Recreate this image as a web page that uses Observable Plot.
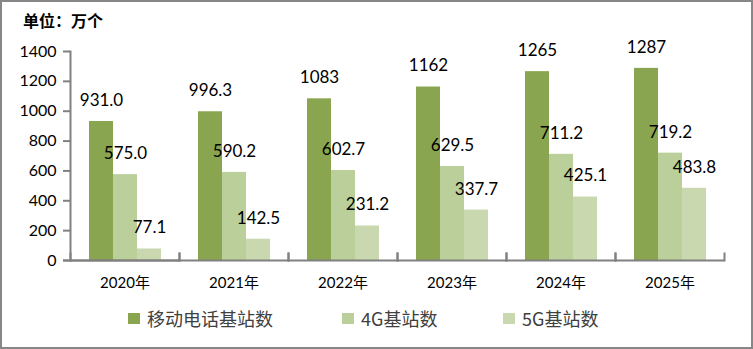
<!DOCTYPE html>
<html>
<head>
<meta charset="utf-8">
<script src="https://cdn.jsdelivr.net/npm/d3@7"></script>
<script src="https://cdn.jsdelivr.net/npm/@observablehq/plot@0.6"></script>
<style>
  html, body { margin: 0; padding: 0; background: #fff; }
  #wrap { position: relative; width: 753px; height: 349px; overflow: hidden; background: #fff; }
  #border { position: absolute; left: 0; top: 0; width: 753px; height: 349px; box-sizing: border-box; border: 2px solid #878787; pointer-events: none; }
  #chart { position: absolute; left: 0; top: 0; }
  #title { position: absolute; left: 23px; top: 9px; font: bold 16px "Noto Sans CJK SC", sans-serif; line-height: 22px; color: #000; }
  #legend { position: absolute; left: 0; top: 306px; width: 753px; height: 24px; font: 18px "Noto Sans CJK SC", Lato, sans-serif; color: #404040; line-height: 24px; }
  .item { position: absolute; top: 0; display: flex; align-items: center; white-space: nowrap; }
  .sw { width: 12px; height: 11px; margin-right: 7px; }
</style>
</head>
<body>
<div id="wrap">
  <div id="chart"></div>
  <div id="title">单位：万个</div>
  <div id="legend"></div>
  <div id="border"></div>
</div>
<script>
const years = ["2020年", "2021年", "2022年", "2023年", "2024年", "2025年"];
const series = ["移动电话基站数", "4G基站数", "5G基站数"];
const mobile = [931.0, 996.3, 1083, 1162, 1265, 1287];
const g4 = [575.0, 590.2, 602.7, 629.5, 711.2, 719.2];
const g5 = [77.1, 142.5, 231.2, 337.7, 425.1, 483.8];
const yTicks = [0, 200, 400, 600, 800, 1000, 1200, 1400];
const colors = ["#8AA54F", "#BACF99", "#C9D8AF"];
const legendLeft = [128, 342, 503];

const values = [mobile, g4, g5];
const data = [];
years.forEach((yr, i) => {
  series.forEach((s, j) => {
    data.push({year: yr, series: s, value: values[j][i]});
  });
});
const fmt = v => v >= 1000 ? d3.format("d")(v) : d3.format(".1f")(v);
const axisGray = "#808080";

const chart = Plot.plot({
  width: 753,
  height: 300,
  marginLeft: 69,
  marginRight: 28,
  marginTop: 51,
  marginBottom: 40,
  style: {fontFamily: "Lato, 'Noto Sans CJK SC', sans-serif", background: "transparent", color: "#000"},
  fx: {domain: years, padding: 0, label: null, axis: null},
  x: {domain: series, paddingInner: 0, paddingOuter: 0.73, axis: null},
  y: {domain: [0, 1400], axis: null},
  color: {domain: series, range: colors},
  marks: [
    Plot.barY(data, {fx: "year", x: "series", y: "value", fill: "series"}),
    Plot.text(data, {fx: "year", x: "series", y: "value", text: d => fmt(d.value), dy: -21, fontSize: 17, fill: "#000"}),
    Plot.frame({anchor: "left", stroke: axisGray, strokeWidth: 2, insetTop: 202}),
    Plot.frame({anchor: "right", stroke: axisGray, strokeWidth: 2, insetTop: 202}),
    Plot.frame({anchor: "left", stroke: axisGray, strokeWidth: 2, facetAnchor: "left"}),
    Plot.ruleY([0], {stroke: axisGray, strokeWidth: 2}),
    Plot.ruleY([0], {stroke: axisGray, strokeWidth: 2, facetAnchor: "left", insetLeft: -7}),
    Plot.axisY({ticks: yTicks, tickSize: 7, tickPadding: 7, fontSize: 16, stroke: axisGray, strokeWidth: 2, fill: "#000", label: null, tickFormat: "d", facetAnchor: "left"}),
    Plot.axisFx({anchor: "bottom", domain: years, tickSize: 0, tickPadding: 17, fontSize: 15, label: null, fill: "#000"})
  ]
});
document.getElementById("chart").appendChild(chart);

const legend = document.getElementById("legend");
series.forEach((s, j) => {
  const it = document.createElement("div");
  it.className = "item";
  it.style.left = legendLeft[j] + "px";
  const sw = document.createElement("div");
  sw.className = "sw";
  sw.style.background = colors[j];
  const t = document.createElement("span");
  t.textContent = s;
  it.appendChild(sw);
  it.appendChild(t);
  legend.appendChild(it);
});
</script>
</body>
</html>
